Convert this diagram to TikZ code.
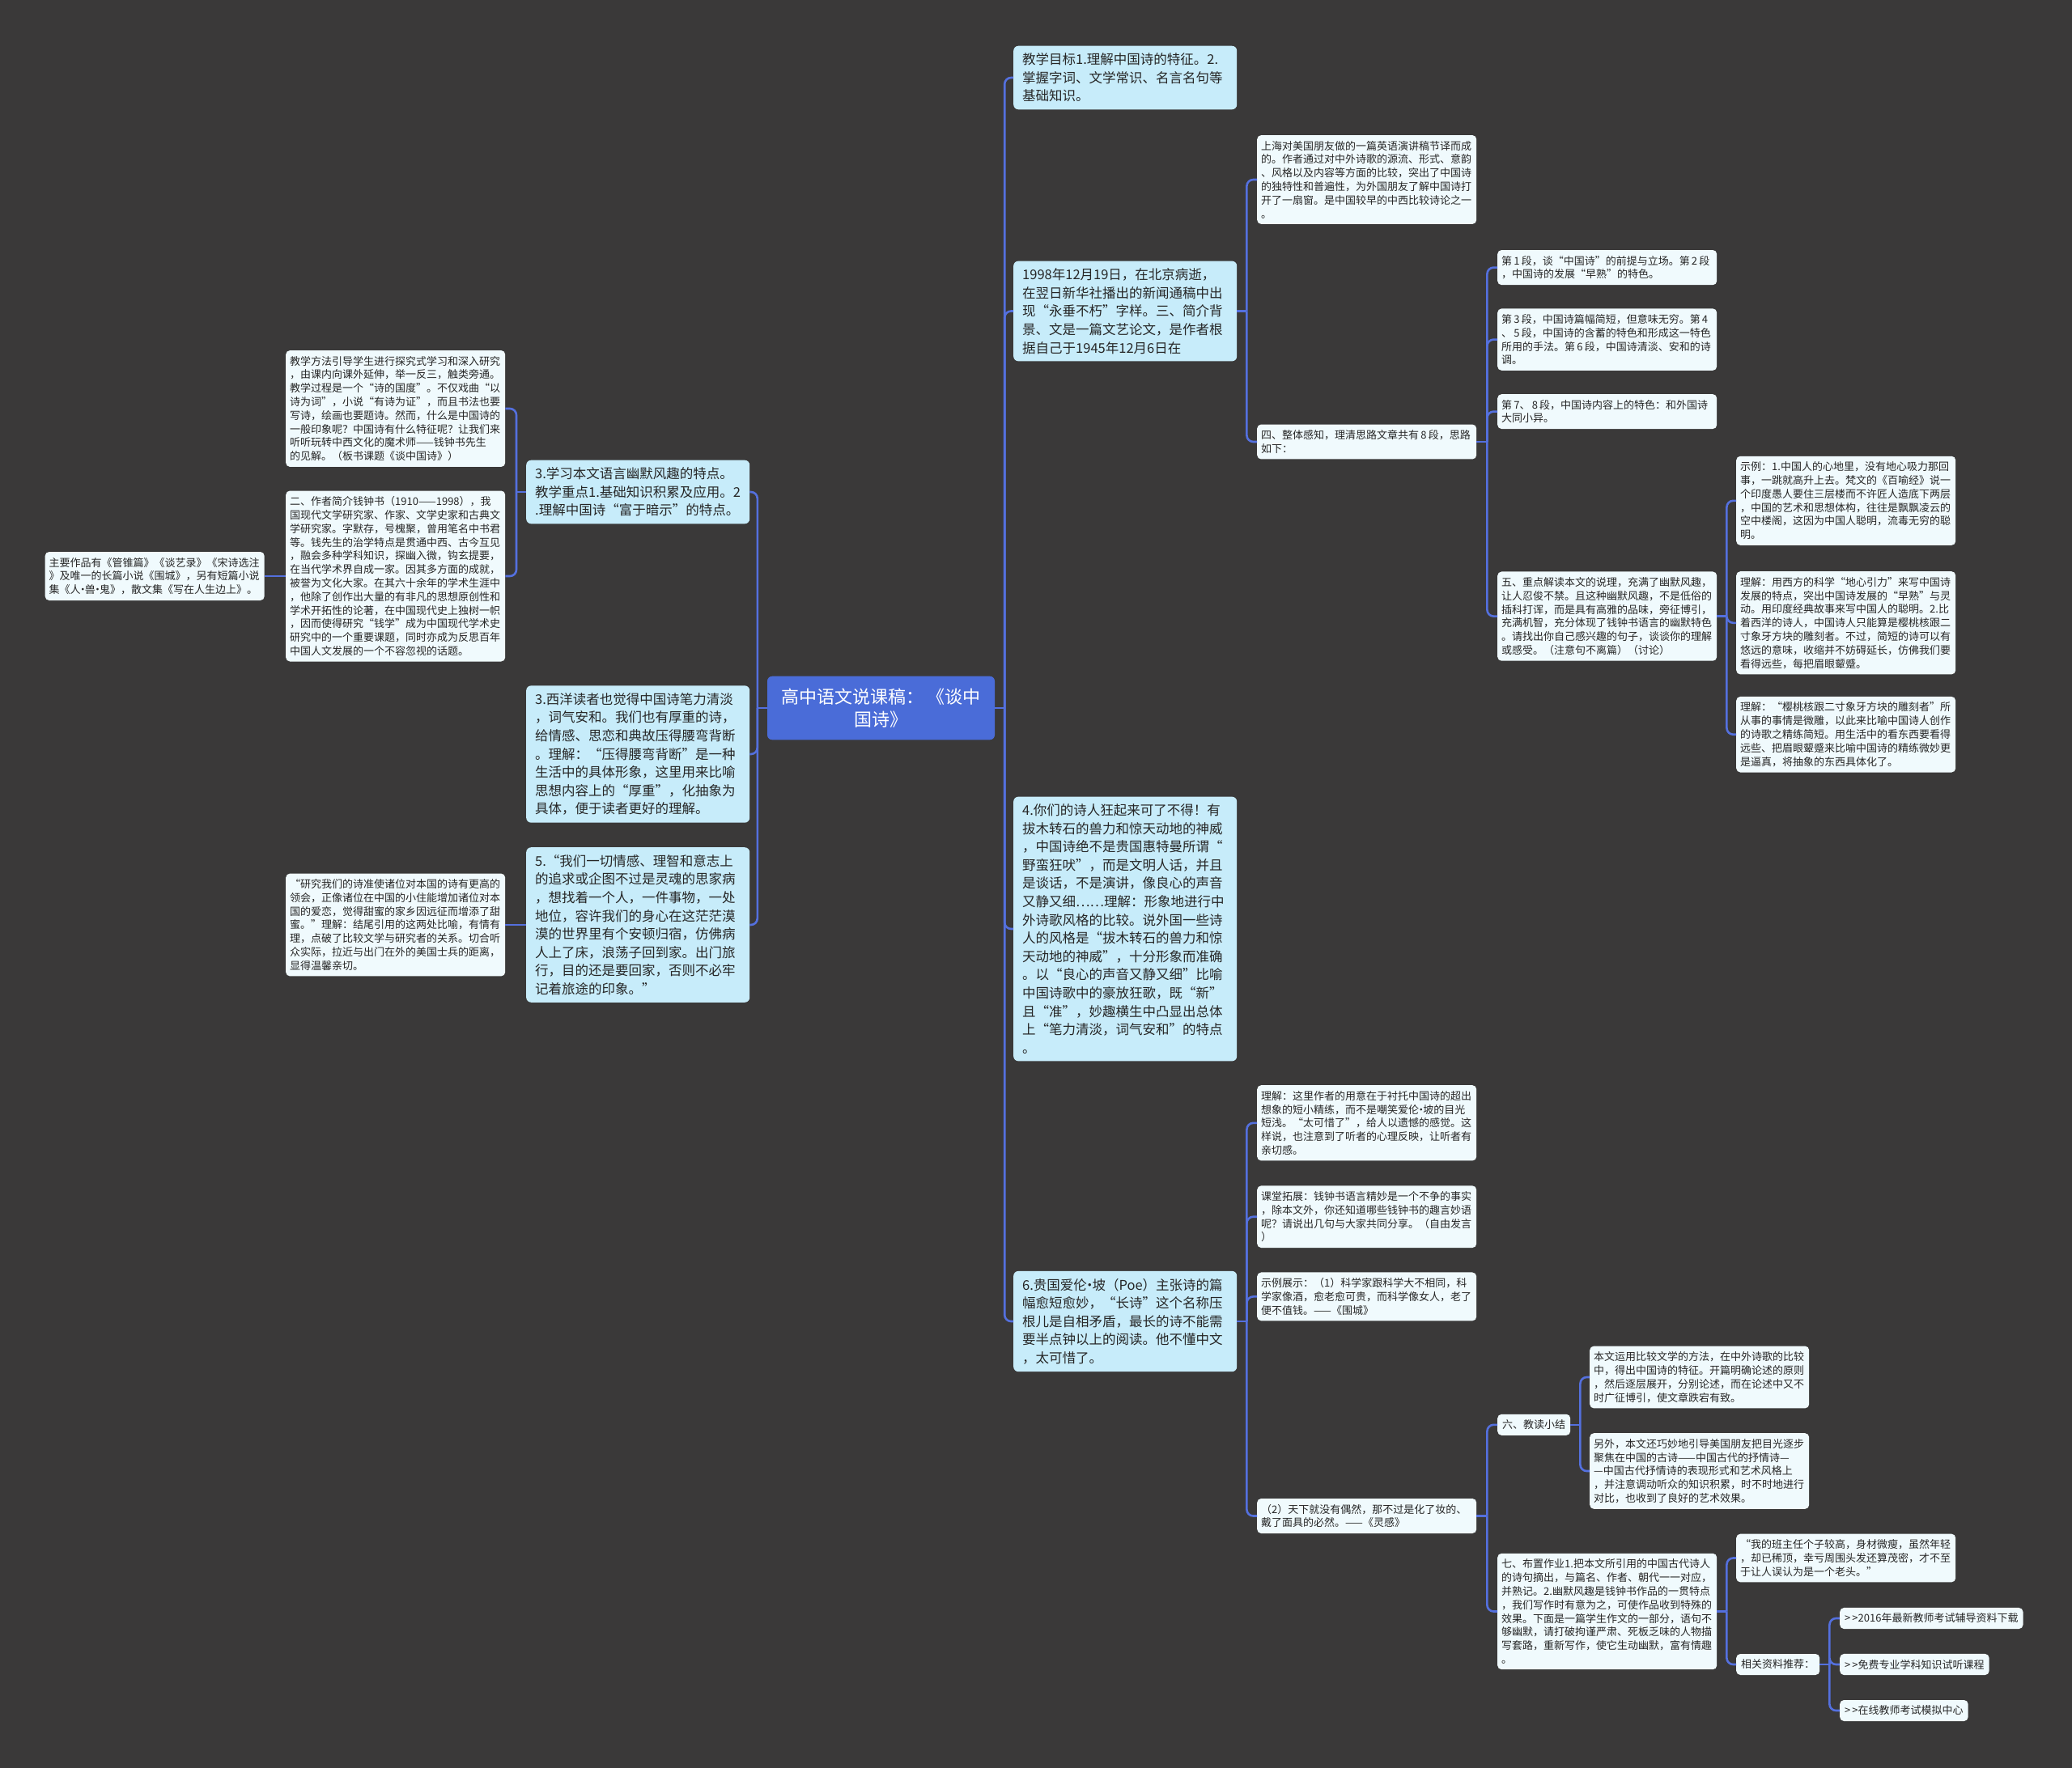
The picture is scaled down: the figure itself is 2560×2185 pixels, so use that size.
\documentclass[tikz,border=0pt]{standalone}
\usepackage{fontspec}
\usepackage{xcolor}
\setmainfont{Noto Sans CJK SC}
\definecolor{bgcolor}{RGB}{58,57,57}
\definecolor{rootcolor}{RGB}{74,108,216}
\definecolor{topiccolor}{RGB}{199,236,250}
\definecolor{leafcolor}{RGB}{240,250,253}
\definecolor{linkcolor}{RGB}{84,112,222}
\definecolor{inkcolor}{RGB}{38,38,38}
\newcommand{\namedot}{\kern-.3em•\kern-.3em}

\begin{document}
\begin{tikzpicture}[x=1pt, y=-1pt,
    root/.style={rectangle, fill=rootcolor, text=white, rounded corners=6pt, align=center, minimum width=281pt, inner ysep=15pt, font=\fontsize{22}{28}\selectfont},
    topic/.style={rectangle, fill=topiccolor, text=inkcolor, rounded corners=6pt, text width=254pt, align=left, inner xsep=11pt, inner ysep=9pt, anchor=west, font=\fontsize{16.5}{22.6}\selectfont},
    leaf/.style={rectangle, fill=leafcolor, text=inkcolor, rounded corners=5pt, text width=261pt, align=left, inner xsep=5pt, inner ysep=7pt, anchor=west, font=\fontsize{13}{16.8}\selectfont},
    tag/.style={rectangle, fill=leafcolor, text=inkcolor, rounded corners=5pt, inner xsep=6pt, inner ysep=7pt, anchor=west, font=\fontsize{13}{16.8}\selectfont},
    link/.style={draw=linkcolor, line width=2.6pt, rounded corners=8pt}]

    \useasboundingbox (0,0) rectangle (2560,2185);
    \fill[bgcolor] (0,0) rectangle (2560,2185);

    \node [root] (root) at (1088.5,875) {高中语文说课稿： 《谈中\\国诗》};

    % left side
    \node [topic] (humor) at (650,608) {3.学习本文语言幽默风趣的特点。\\教学重点1.基础知识积累及应用。2\\.理解中国诗“富于暗示”的特点。};
    \node [topic] (western) at (650,932) {3.西洋读者也觉得中国诗笔力清淡\\，词气安和。我们也有厚重的诗，\\给情感、思恋和典故压得腰弯背断\\。理解：“压得腰弯背断”是一种\\生活中的具体形象，这里用来比喻\\思想内容上的“厚重”，化抽象为\\具体，便于读者更好的理解。};
    \node [topic] (homesick) at (650,1143) {5.“我们一切情感、理智和意志上\\的追求或企图不过是灵魂的思家病\\，想找着一个人，一件事物，一处\\地位，容许我们的身心在这茫茫漠\\漠的世界里有个安顿归宿，仿佛病\\人上了床，浪荡子回到家。出门旅\\行，目的还是要回家，否则不必牢\\记着旅途的印象。”};
    \node [leaf] (method) at (353,505) {教学方法引导学生进行探究式学习和深入研究\\，由课内向课外延伸，举一反三，触类旁通。\\教学过程是一个“诗的国度”。不仅戏曲“以\\诗为词”，小说“有诗为证”，而且书法也要\\写诗，绘画也要题诗。然而，什么是中国诗的\\一般印象呢？中国诗有什么特征呢？让我们来\\听听玩转中西文化的魔术师——钱钟书先生\\的见解。（板书课题《谈中国诗》）};
    \node [leaf] (author) at (353,712) {二、作者简介钱钟书（1910——1998），我\\国现代文学研究家、作家、文学史家和古典文\\学研究家。字默存，号槐聚，曾用笔名中书君\\等。钱先生的治学特点是贯通中西、古今互见\\，融会多种学科知识，探幽入微，钩玄提要，\\在当代学术界自成一家。因其多方面的成就，\\被誉为文化大家。在其六十余年的学术生涯中\\，他除了创作出大量的有非凡的思想原创性和\\学术开拓性的论著，在中国现代史上独树一帜\\，因而使得研究“钱学”成为中国现代学术史\\研究中的一个重要课题，同时亦成为反思百年\\中国人文发展的一个不容忽视的话题。};
    \node [leaf] (works) at (55.5,712) {主要作品有《管锥篇》《谈艺录》《宋诗选注\\》及唯一的长篇小说《围城》，另有短篇小说\\集《人\namedot 兽\namedot 鬼》，散文集《写在人生边上》。};
    \node [leaf] (quote) at (353,1143) {“研究我们的诗准使诸位对本国的诗有更高的\\领会，正像诸位在中国的小住能增加诸位对本\\国的爱恋，觉得甜蜜的家乡因远征而增添了甜\\蜜。”理解：结尾引用的这两处比喻，有情有\\理，点破了比较文学与研究者的关系。切合听\\众实际，拉近与出门在外的美国士兵的距离，\\显得温馨亲切。};

    % right side
    \node [topic] (goal) at (1252,96) {教学目标1.理解中国诗的特征。2.\\掌握字词、文学常识、名言名句等\\基础知识。};
    \node [topic] (death) at (1252,384.5) {1998年12月19日，在北京病逝，\\在翌日新华社播出的新闻通稿中出\\现“永垂不朽”字样。三、简介背\\景、文是一篇文艺论文，是作者根\\据自己于1945年12月6日在};
    \node [topic] (poets) at (1252,1148) {4.你们的诗人狂起来可了不得！有\\拔木转石的兽力和惊天动地的神威\\，中国诗绝不是贵国惠特曼所谓“\\野蛮狂吠”，而是文明人话，并且\\是谈话，不是演讲，像良心的声音\\又静又细……理解：形象地进行中\\外诗歌风格的比较。说外国一些诗\\人的风格是“拔木转石的兽力和惊\\天动地的神威”，十分形象而准确\\。以“良心的声音又静又细”比喻\\中国诗歌中的豪放狂歌，既“新”\\且“准”，妙趣横生中凸显出总体\\上“笔力清淡，词气安和”的特点\\。};
    \node [topic] (poe) at (1252,1633) {6.贵国爱伦\namedot 坡（Poe）主张诗的篇\\幅愈短愈妙，“长诗”这个名称压\\根儿是自相矛盾，最长的诗不能需\\要半点钟以上的阅读。他不懂中文\\，太可惜了。};

    \node [leaf] (speech) at (1553,222) {上海对美国朋友做的一篇英语演讲稿节译而成\\的。作者通过对中外诗歌的源流、形式、意韵\\、风格以及内容等方面的比较，突出了中国诗\\的独特性和普遍性，为外国朋友了解中国诗打\\开了一扇窗。是中国较早的中西比较诗论之一\\。};
    \node [leaf] (outline) at (1553,546) {四、整体感知，理清思路文章共有\,8\,段，思路\\如下：};
    \node [leaf] (para1) at (1850,330.6) {第\,1\,段，谈“中国诗”的前提与立场。第\,2\,段\\，中国诗的发展“早熟”的特色。};
    \node [leaf] (para3) at (1850,419.6) {第\,3\,段，中国诗篇幅简短，但意味无穷。第\,4\\、\,5\,段，中国诗的含蓄的特色和形成这一特色\\所用的手法。第\,6\,段，中国诗清淡、安和的诗\\调。};
    \node [leaf] (para7) at (1850,508.6) {第\,7、\,8\,段，中国诗内容上的特色：和外国诗\\大同小异。};
    \node [leaf] (reading) at (1850,761.6) {五、重点解读本文的说理，充满了幽默风趣，\\让人忍俊不禁。且这种幽默风趣，不是低俗的\\插科打诨，而是具有高雅的品味，旁征博引，\\充满机智，充分体现了钱钟书语言的幽默特色\\。请找出你自己感兴趣的句子，谈谈你的理解\\或感受。（注意句不离篇）（讨论）};
    \node [leaf] (sample1) at (2145,618.8) {示例：1.中国人的心地里，没有地心吸力那回\\事，一跳就高升上去。梵文的《百喻经》说一\\个印度愚人要住三层楼而不许匠人造底下两层\\，中国的艺术和思想体构，往往是飘飘凌云的\\空中楼阁，这因为中国人聪明，流毒无穷的聪\\明。};
    \node [leaf] (gravity) at (2145,769.8) {理解：用西方的科学“地心引力”来写中国诗\\发展的特点，突出中国诗发展的“早熟”与灵\\动。用印度经典故事来写中国人的聪明。2.比\\着西洋的诗人，中国诗人只能算是樱桃核跟二\\寸象牙方块的雕刻者。不过，简短的诗可以有\\悠远的意味，收缩并不妨碍延长，仿佛我们要\\看得远些，每把眉眼颦蹙。};
    \node [leaf] (cherry) at (2145,907.7) {理解：“樱桃核跟二寸象牙方块的雕刻者”所\\从事的事情是微雕，以此来比喻中国诗人创作\\的诗歌之精练简短。用生活中的看东西要看得\\远些、把眉眼颦蹙来比喻中国诗的精练微妙更\\是逼真，将抽象的东西具体化了。};

    \node [leaf] (poeview) at (1553,1387.8) {理解：这里作者的用意在于衬托中国诗的超出\\想象的短小精练，而不是嘲笑爱伦\namedot 坡的目光\\短浅。“太可惜了”，给人以遗憾的感觉。这\\样说，也注意到了听者的心理反映，让听者有\\亲切感。};
    \node [leaf] (extend) at (1553,1503.7) {课堂拓展：钱钟书语言精妙是一个不争的事实\\，除本文外，你还知道哪些钱钟书的趣言妙语\\呢？请说出几句与大家共同分享。（自由发言\\）};
    \node [leaf] (sample2) at (1553,1602.4) {示例展示：（1）科学家跟科学大不相同，科\\学家像酒，愈老愈可贵，而科学像女人，老了\\便不值钱。——《围城》};
    \node [leaf] (chance) at (1553,1873.5) {（2）天下就没有偶然，那不过是化了妆的、\\戴了面具的必然。——《灵感》};
    \node [tag] (summary) at (1850,1760.8) {六、教读小结};
    \node [leaf] (compare) at (1964,1702) {本文运用比较文学的方法，在中外诗歌的比较\\中，得出中国诗的特征。开篇明确论述的原则\\，然后逐层展开，分别论述，而在论述中又不\\时广征博引，使文章跌宕有致。};
    \node [leaf] (guide) at (1964,1818) {另外，本文还巧妙地引导美国朋友把目光逐步\\聚焦在中国的古诗——中国古代的抒情诗—\\—中国古代抒情诗的表现形式和艺术风格上\\，并注意调动听众的知识积累，时不时地进行\\对比，也收到了良好的艺术效果。};
    \node [leaf] (homework) at (1850,1991.5) {七、布置作业1.把本文所引用的中国古代诗人\\的诗句摘出，与篇名、作者、朝代一一对应，\\并熟记。2.幽默风趣是钱钟书作品的一贯特点\\，我们写作时有意为之，可使作品收到特殊的\\效果。下面是一篇学生作文的一部分，语句不\\够幽默，请打破拘谨严肃、死板乏味的人物描\\写套路，重新写作，使它生动幽默，富有情趣\\。};
    \node [leaf] (teacher) at (2145,1925.5) {“我的班主任个子较高，身材微瘦，虽然年轻\\，却已稀顶，幸亏周围头发还算茂密，才不至\\于让人误认为是一个老头。”};
    \node [tag] (resources) at (2145,2057) {相关资料推荐：};
    \node [tag] (res1) at (2273,2000) {>\hspace{2pt}>2016年最新教师考试辅导资料下载};
    \node [tag] (res2) at (2273,2057) {>\hspace{2pt}>免费专业学科知识试听课程};
    \node [tag] (res3) at (2273,2114) {>\hspace{2pt}>在线教师考试模拟中心};

    % connectors
    \draw [link] (root.east) -- ++(12,0);
    \foreach \n in {goal,death,poets,poe}
        \draw [link] (root.east) ++(12,0) |- (\n.west);
    \draw [link] (root.west) -- ++(-12,0);
    \foreach \n in {humor,western,homesick}
        \draw [link] (root.west) ++(-12,0) |- (\n.east);
    \draw [link] (humor.west) -- ++(-12,0);
    \foreach \n in {method,author}
        \draw [link] (humor.west) ++(-12,0) |- (\n.east);
    \draw [link] (author.west) -- (works.east);
    \draw [link] (homesick.west) -- (quote.east);

    \draw [link] (death.east) -- ++(12,0);
    \foreach \n in {speech,outline}
        \draw [link] (death.east) ++(12,0) |- (\n.west);
    \draw [link] (outline.east) -- ++(13,0);
    \foreach \n in {para1,para3,para7,reading}
        \draw [link] (outline.east) ++(13,0) |- (\n.west);
    \draw [link] (reading.east) -- ++(12,0);
    \foreach \n in {sample1,gravity,cherry}
        \draw [link] (reading.east) ++(12,0) |- (\n.west);

    \draw [link] (poe.east) -- ++(12,0);
    \foreach \n in {poeview,extend,sample2,chance}
        \draw [link] (poe.east) ++(12,0) |- (\n.west);
    \draw [link] (chance.east) -- ++(13,0);
    \foreach \n in {summary,homework}
        \draw [link] (chance.east) ++(13,0) |- (\n.west);
    \draw [link] (summary.east) -- ++(12,0);
    \foreach \n in {compare,guide}
        \draw [link] (summary.east) ++(12,0) |- (\n.west);
    \draw [link] (homework.east) -- ++(12,0);
    \foreach \n in {teacher,resources}
        \draw [link] (homework.east) ++(12,0) |- (\n.west);
    \draw [link] (resources.east) -- ++(12,0);
    \foreach \n in {res1,res2,res3}
        \draw [link] (resources.east) ++(12,0) |- (\n.west);

\end{tikzpicture}
\end{document}
